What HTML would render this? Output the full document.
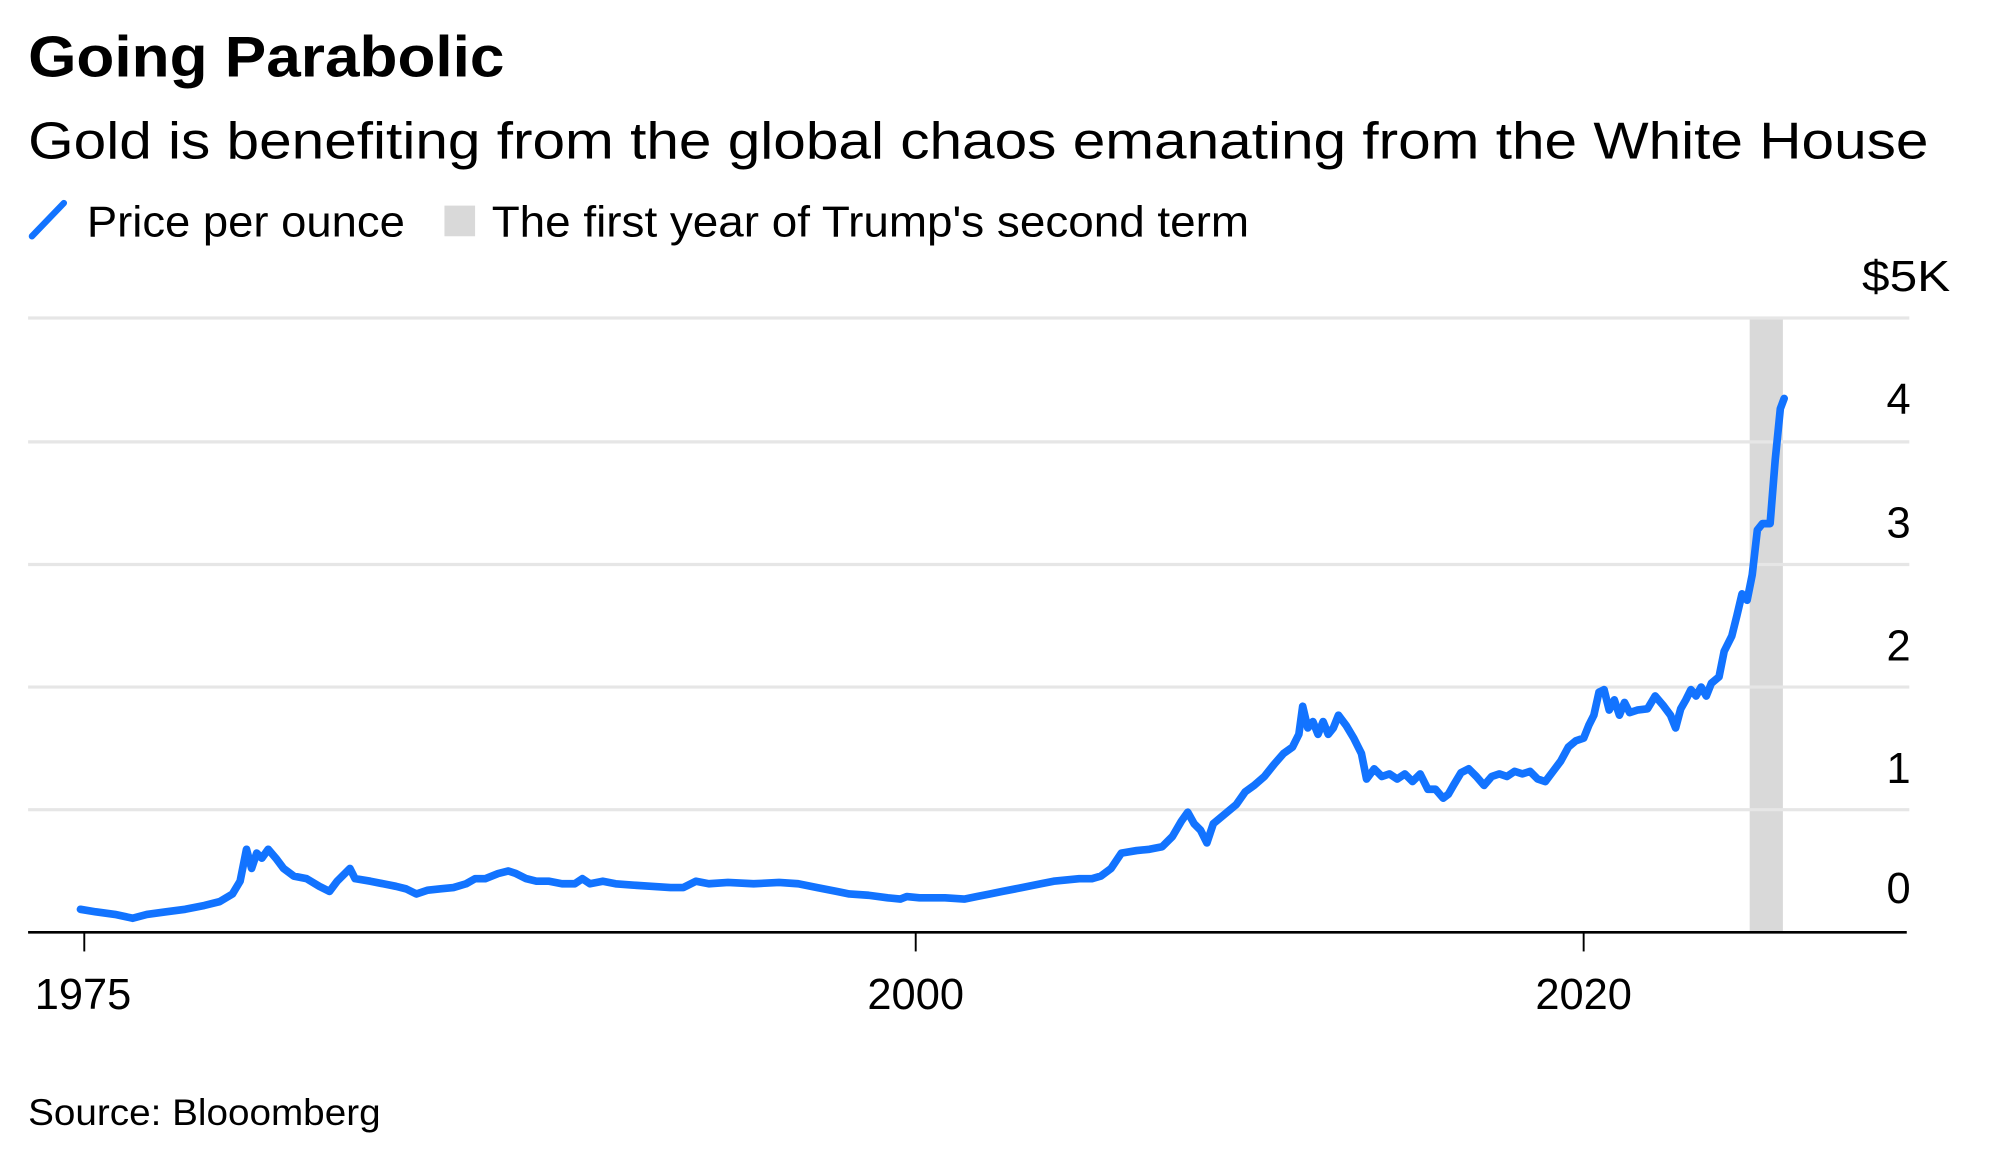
<!DOCTYPE html>
<html><head><meta charset="utf-8"><style>
html,body{margin:0;padding:0;background:#fff;}
svg{display:block;}
text{font-family:"Liberation Sans",Arial,sans-serif;fill:#000;}
</style></head><body>
<svg width="2000" height="1166" viewBox="0 0 1566 913" preserveAspectRatio="none" xmlns="http://www.w3.org/2000/svg">
<text x="22" y="60" font-size="45" font-weight="bold" textLength="373" lengthAdjust="spacingAndGlyphs">Going Parabolic</text>
<text x="22" y="124" font-size="41" textLength="1488" lengthAdjust="spacingAndGlyphs">Gold is benefiting from the global chaos emanating from the White House</text>
<line x1="25" y1="185" x2="50" y2="159" stroke="#1273ff" stroke-width="5" stroke-linecap="round"/>
<text x="68" y="185" font-size="34" textLength="249" lengthAdjust="spacingAndGlyphs">Price per ounce</text>
<rect x="348" y="161" width="24" height="24" fill="#d9d9d9"/>
<text x="385" y="185" font-size="34" textLength="593" lengthAdjust="spacingAndGlyphs">The first year of Trump's second term</text>
<rect x="1370" y="249" width="26" height="481" fill="#d9d9d9"/>
<g stroke="#e6e6e6" stroke-width="2.5">
<line x1="22" y1="249" x2="1495" y2="249"/>
<line x1="22" y1="346" x2="1495" y2="346"/>
<line x1="22" y1="442" x2="1495" y2="442"/>
<line x1="22" y1="538" x2="1495" y2="538"/>
<line x1="22" y1="634" x2="1495" y2="634"/>
</g>
<g font-size="34" text-anchor="end">
<text x="1527" y="228" textLength="69" lengthAdjust="spacingAndGlyphs">$5K</text>
<text x="1496" y="324">4</text>
<text x="1496" y="421">3</text>
<text x="1496" y="517">2</text>
<text x="1496" y="613">1</text>
<text x="1496" y="707">0</text>
</g>
<polyline fill="none" stroke="#1273ff" stroke-width="6" stroke-linejoin="round" stroke-linecap="round" points="63,712 75,714 90,716 104,719 115,716 130,714 145,712 160,709 172,706 182,700 188,690 193,665 197,680 201,668 205,672 210,665 216,672 222,680 230,686 240,688 250,694 258,698 264,690 270,684 274,680 278,688 290,690 300,692 310,694 318,696 326,700 335,697 345,696 355,695 365,692 372,688 380,688 390,684 398,682 404,684 412,688 420,690 430,690 440,692 450,692 456,688 462,692 472,690 482,692 495,693 510,694 525,695 535,695 545,690 555,692 570,691 590,692 610,691 625,692 640,695 655,698 665,700 680,701 695,703 705,704 710,702 720,703 740,703 755,704 765,702 775,700 785,698 800,695 815,692 825,690 835,689 845,688 855,688 862,686 870,680 878,668 890,666 900,665 910,663 918,655 925,643 930,636 935,645 940,650 945,660 950,645 956,640 962,635 968,630 975,620 982,615 990,608 998,598 1005,590 1012,585 1017,575 1020,553 1024,570 1028,565 1032,575 1036,565 1040,575 1044,570 1048,560 1054,568 1060,578 1066,590 1070,610 1076,602 1082,608 1088,606 1094,610 1100,606 1106,612 1112,606 1118,618 1124,618 1130,625 1134,622 1138,615 1144,605 1150,602 1156,608 1162,615 1168,608 1174,606 1180,608 1186,604 1192,606 1198,604 1204,610 1210,612 1216,604 1222,596 1228,585 1234,580 1240,578 1244,568 1248,560 1252,542 1256,540 1260,556 1264,548 1268,560 1272,550 1276,558 1282,556 1290,555 1296,545 1302,552 1308,560 1312,570 1316,555 1320,548 1324,540 1328,545 1332,538 1336,545 1340,535 1346,530 1350,510 1356,498 1360,482 1364,465 1368,470 1372,450 1376,415 1380,410 1386,410 1390,360 1394,320 1397,312"/>
<line x1="22" y1="730" x2="1493" y2="730" stroke="#000" stroke-width="2"/>
<g stroke="#000" stroke-width="1.5">
<line x1="66" y1="730" x2="66" y2="745"/>
<line x1="717" y1="730" x2="717" y2="745"/>
<line x1="1240" y1="730" x2="1240" y2="745"/>
</g>
<g font-size="34" text-anchor="middle">
<text x="65" y="790">1975</text>
<text x="717" y="790">2000</text>
<text x="1240" y="790">2020</text>
</g>
<text x="22" y="881" font-size="29" textLength="276" lengthAdjust="spacingAndGlyphs">Source: Blooomberg</text>
</svg>
</body></html>
